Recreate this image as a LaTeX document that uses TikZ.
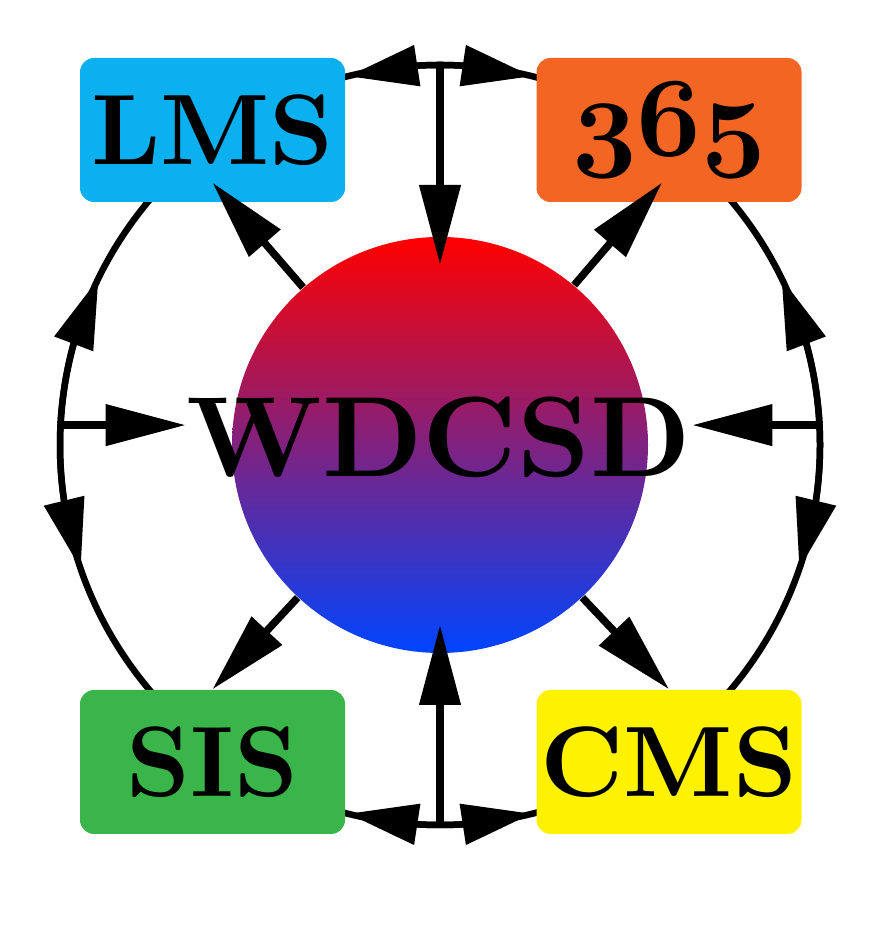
\documentclass[tikz,border=0pt]{standalone}
\usepackage{fix-cm}
\usepackage{fontspec}
\usepackage{xcolor}
\usepackage{tikz}
\usetikzlibrary{arrows.meta,bending,calc}
\newfontface\labelfont{lmroman10-bold}[Extension=.otf]
\newcommand{\osfbold}[1]{{\usefont{OML}{cmm}{b}{it}#1}}
\definecolor{lmsblue}{HTML}{0BB0F0}
\definecolor{officeorange}{HTML}{F26522}
\definecolor{sisgreen}{HTML}{39B54A}
\definecolor{cmsyellow}{HTML}{FFF200}
\definecolor{hubblue}{RGB}{0,68,255}
\tikzset{
	link/.style={line width=0.75mm, -{Triangle[length=8mm,width=4mm]}},
	ringtip/.style={line width=0.65mm, -{Triangle[length=7mm,width=4mm,flex]}},
	app/.style={rectangle, rounded corners=1.4mm, minimum width=2.65cm, minimum height=1.44cm,
			inner sep=0pt, font=\fontsize{28.5}{34}\selectfont\labelfont},
	hub/.style={circle, minimum size=4.16cm, inner sep=0pt, top color=red, bottom color=hubblue}
}

\begin{document}
\begin{tikzpicture}
			\useasboundingbox (0,0) rectangle (8.8,9.33);
			\node[hub] (hub) at (4.4,4.88) {};
			\draw[line width=0.65mm]	(hub.center) circle[radius=3.8];

			\node[app, fill=lmsblue]	(lms) at (2.125,8.03) {LMS};
			\node[app, fill=officeorange]	(office) at (6.69,8.03) {\fontsize{32}{36}\osfbold{365}};
			\node[app, fill=sisgreen]	(sis) at (2.125,1.71) {SIS};
			\node[app, fill=cmsyellow]	(cms) at (6.69,1.71) {CMS};
			\node[font=\fontsize{32.5}{40}\selectfont\labelfont, inner sep=0pt]	(name) at (4.39,4.955) {WDCSD};

			\coordinate (ringN) at ($(hub.center)+(90:3.8)$);
			\coordinate (ringS) at ($(hub.center)+(270:3.8)$);
			\coordinate (ringW) at ($(hub.center)+(177:3.8)$);
			\coordinate (ringE) at ($(hub.center)+(3:3.8)$);

			\draw[link]	(ringN) to ($(hub.center)+(0,1.8)$);
			\draw[link]	(ringS) to ($(hub.center)+(0,-1.8)$);
			\draw[link]	(ringW) to (ringW -| name.west);
			\draw[link]	(ringE) to (ringE -| name.east);

			\draw[link]	(hub.131) to ([yshift=2mm]lms.south);
			\draw[link]	(hub.50) to ([xshift=-0.7mm,yshift=2mm]office.south);
			\draw[link]	(hub.227) to (sis.north);
			\draw[link]	(hub.313) to (cms.north);

			\foreach \a/\b in {90/104, 90/76, 270/256, 270/284, 177/154, 177/199, 3/26, 3/-19}
				\draw[ringtip]	($(hub.center)+(\a:3.8)$) arc[start angle=\a, end angle=\b, radius=3.8];
		\end{tikzpicture}
\end{document}
